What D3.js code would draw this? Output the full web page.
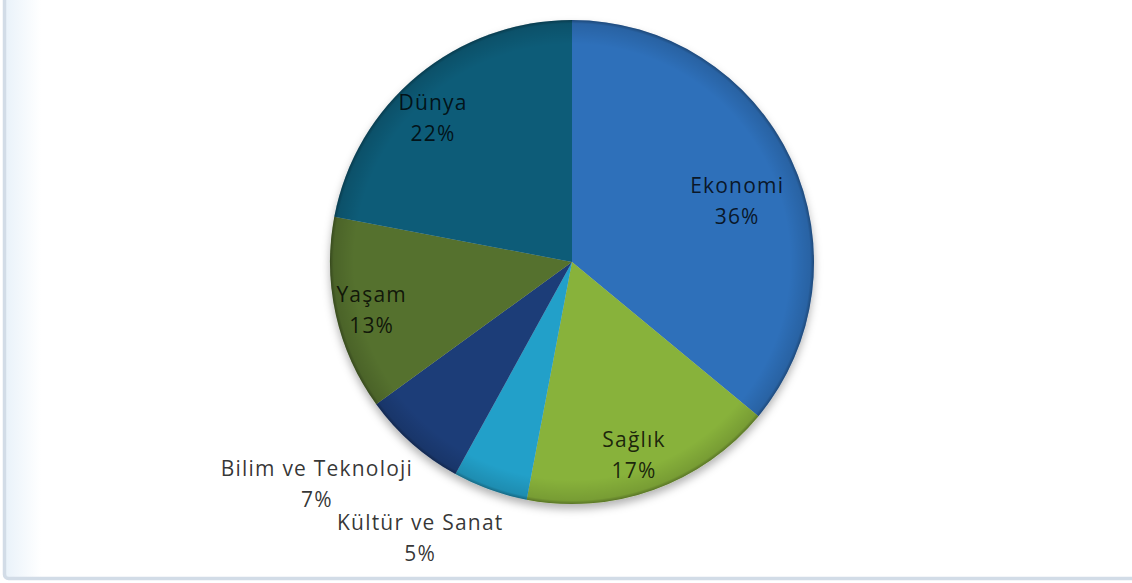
<!DOCTYPE html>
<html>
<head>
<meta charset="utf-8">
<script src="https://cdn.jsdelivr.net/npm/d3@7"></script>
<style>
  html, body { margin: 0; padding: 0; background: #fff; }
  svg { display: block; }
</style>
</head>
<body>
<svg id="chart" width="1132" height="583"></svg>
<script>
// Category shares (percent), clockwise from 12 o'clock
const categories = ["Ekonomi", "Sağlık", "Kültür ve Sanat", "Bilim ve Teknoloji", "Yaşam", "Dünya"];
const shares     = [36, 17, 5, 7, 13, 22];
const sliceColors = ["#2f6fba", "#88b23a", "#24a0c9", "#1c3c78", "#54712d", "#0d5b78"];

// Label placement: radius from centre and angular nudge (degrees) from the slice mid-angle
const labelSpots = {
  "Ekonomi":            { r: 176, shift: 5 },
  "Sağlık":             { r: 203, shift: 2 },
  "Kültür ve Sanat":    { r: 315, shift: 9 },
  "Bilim ve Teknoloji": { r: 338, shift: 7.6 },
  "Yaşam":              { r: 206, shift: -0.9 },
  "Dünya":              { r: 200, shift: -4.4 }
};

const width = 1132, height = 583;
const cx = 572, cy = 262, radius = 242;

const svg = d3.select("#chart");
const defs = svg.append("defs");

// soft panel shading along the left edge
const edge = defs.append("linearGradient").attr("id", "edgeFade")
  .attr("x1", 0).attr("x2", 1).attr("y1", 0).attr("y2", 0);
edge.append("stop").attr("offset", 0).attr("stop-color", "#e9f2fa");
edge.append("stop").attr("offset", 1).attr("stop-color", "#ffffff");

// drop shadow under the pie
const shadow = defs.append("filter").attr("id", "pieShadow")
  .attr("x", "-20%").attr("y", "-20%").attr("width", "140%").attr("height", "140%");
shadow.append("feDropShadow").attr("dx", 0).attr("dy", 5).attr("stdDeviation", 4)
  .attr("flood-color", "#000").attr("flood-opacity", 0.3);

// darker rim toward the outer edge of each slice
const rim = defs.append("radialGradient").attr("id", "rim")
  .attr("gradientUnits", "userSpaceOnUse")
  .attr("cx", 0).attr("cy", 0).attr("r", radius);
rim.append("stop").attr("offset", 0.9).attr("stop-color", "#000").attr("stop-opacity", 0);
rim.append("stop").attr("offset", 0.985).attr("stop-color", "#000").attr("stop-opacity", 0.12);
rim.append("stop").attr("offset", 1).attr("stop-color", "#000").attr("stop-opacity", 0.35);

// chart panel
svg.append("rect").attr("x", 5).attr("y", -10).attr("width", 36).attr("height", 587)
  .attr("fill", "url(#edgeFade)");
svg.append("rect")
  .attr("x", 4.5).attr("y", -10).attr("width", 1140).attr("height", 588.5)
  .attr("rx", 4)
  .attr("fill", "none").attr("stroke", "#d2dce7").attr("stroke-width", 3.5);

const rows = categories.map((c, i) => ({ name: c, value: shares[i], color: sliceColors[i] }));

const pie = d3.pie().value(d => d.value).sort(null);
const arc = d3.arc().innerRadius(0).outerRadius(radius);
const arcs = pie(rows);

const g = svg.append("g").attr("transform", `translate(${cx},${cy})`);

const slices = g.append("g").attr("filter", "url(#pieShadow)");
slices.selectAll("path.slice")
  .data(arcs)
  .join("path")
  .attr("class", "slice")
  .attr("d", arc)
  .attr("fill", d => d.data.color);

g.append("g").selectAll("path.rim")
  .data(arcs)
  .join("path")
  .attr("class", "rim")
  .attr("d", arc)
  .attr("fill", "url(#rim)");

// data labels: category name and percentage
const fontStack = "'Open Sans', 'Noto Sans', 'DejaVu Sans', sans-serif";
const labels = g.append("g").selectAll("g.label")
  .data(arcs)
  .join("g")
  .attr("class", "label")
  .attr("transform", d => {
    const spot = labelSpots[d.data.name];
    const a = (d.startAngle + d.endAngle) / 2 + spot.shift * Math.PI / 180;
    return `translate(${spot.r * Math.sin(a)},${-spot.r * Math.cos(a)})`;
  });

function styleLabel(sel) {
  sel.attr("text-anchor", "middle")
    .attr("dy", "0.35em")
    .style("font-family", fontStack)
    .style("font-size", "21px")
    .style("letter-spacing", "1.2px")
    .attr("fill", "rgba(0,0,0,0.8)");
}

labels.append("text")
  .attr("y", -15.5)
  .call(styleLabel)
  .text(d => d.data.name);

labels.append("text")
  .attr("y", 15.5)
  .call(styleLabel)
  .text(d => d3.format(".0f")(d.data.value) + "%");
</script>
</body>
</html>
